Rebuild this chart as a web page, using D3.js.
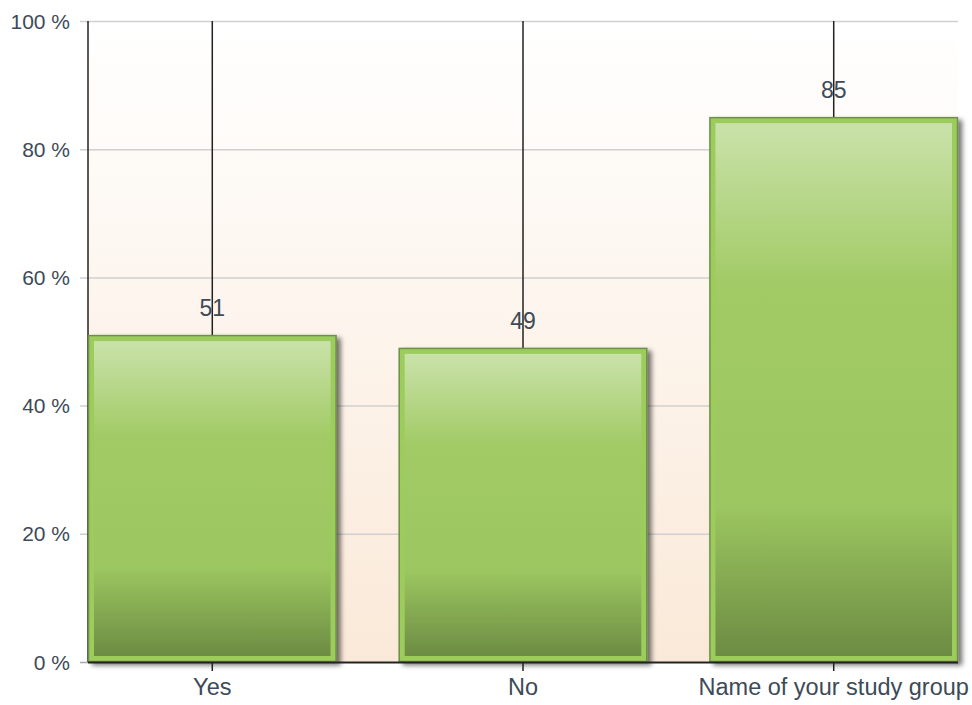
<!DOCTYPE html>
<html lang="en">
<head>
<meta charset="UTF-8">
<title>Study group chart</title>
<style>
  body { margin: 0; background: #fff; }
  svg text { font-family: "Liberation Sans", Arial, sans-serif; fill: #3d4a57; }
</style>
</head>
<body>
<svg id="chart" width="972" height="705"></svg>
<script src="https://d3js.org/d3.v7.min.js"></script>
<script>
// data
const categories = ["Yes", "No", "Name of your study group"];
const values = [51, 49, 85];
const yTicks = [0, 20, 40, 60, 80, 100];

const svg = d3.select("#chart");
const plotL = 88, plotR = 958, plotT = 21, plotB = 662;

const x = d3.scaleBand().domain(categories).range([plotL, plotR])
    .paddingInner(0.2).paddingOuter(0);
const y = d3.scaleLinear().domain([0, 100]).range([plotB, plotT]);

const defs = svg.append("defs");
const bg = defs.append("linearGradient").attr("id", "bg")
    .attr("x1", 0).attr("y1", 0).attr("x2", 0).attr("y2", 1);
bg.append("stop").attr("offset", 0).attr("stop-color", "#ffffff");
bg.append("stop").attr("offset", 1).attr("stop-color", "#fae9d8");

const barGrad = defs.append("linearGradient").attr("id", "barGrad")
    .attr("x1", 0).attr("y1", 0).attr("x2", 0).attr("y2", 1);
[[0, "#cae2aa"], [0.3, "#a2cb66"], [0.72, "#9cc660"], [1, "#6c8c43"]].forEach(s =>
    barGrad.append("stop").attr("offset", s[0]).attr("stop-color", s[1]));

const shadow = defs.append("filter").attr("id", "shadow")
    .attr("x", "-5%").attr("y", "-5%").attr("width", "115%").attr("height", "115%");
shadow.append("feGaussianBlur").attr("in", "SourceAlpha").attr("stdDeviation", 2.5);
shadow.append("feOffset").attr("dx", 4).attr("dy", 3).attr("result", "off");
shadow.append("feComponentTransfer").attr("in", "off").attr("result", "sh")
    .append("feFuncA").attr("type", "linear").attr("slope", 0.55);
const merge = shadow.append("feMerge");
merge.append("feMergeNode").attr("in", "sh");
merge.append("feMergeNode").attr("in", "SourceGraphic");

// plot background
svg.append("rect").attr("x", plotL).attr("y", plotT)
    .attr("width", plotR - plotL).attr("height", plotB - plotT)
    .attr("fill", "url(#bg)");

// horizontal grid + y labels
svg.append("g").selectAll("line").data(yTicks.filter(d => d > 0)).join("line")
    .attr("x1", plotL - 8).attr("x2", plotR)
    .attr("y1", d => y(d) + 0.5).attr("y2", d => y(d) + 0.5)
    .attr("stroke", "#d0d0d0").attr("stroke-width", 1.5);
svg.append("line").attr("x1", plotL - 8).attr("x2", plotL)
    .attr("y1", plotB + 0.5).attr("y2", plotB + 0.5)
    .attr("stroke", "#aaa").attr("stroke-width", 1.5);
svg.append("g").selectAll("text").data(yTicks).join("text")
    .attr("x", 70).attr("y", d => y(d) + 7.5)
    .attr("text-anchor", "end").attr("font-size", 21)
    .text(d => d + " %");

// vertical category lines
svg.append("g").selectAll("line").data(categories).join("line")
    .attr("x1", d => x(d) + x.bandwidth() / 2).attr("x2", d => x(d) + x.bandwidth() / 2)
    .attr("y1", plotT).attr("y2", plotB)
    .attr("stroke", "#222").attr("stroke-width", 1.5);
svg.append("line").attr("x1", plotL).attr("x2", plotL)
    .attr("y1", plotT).attr("y2", plotB)
    .attr("stroke", "#222").attr("stroke-width", 1.5);

// bars
const bars = svg.append("g").selectAll("g").data(values).join("g");
bars.append("rect")
    .attr("x", (d, i) => x(categories[i]) + 0.5)
    .attr("y", d => y(d) + 0.5)
    .attr("width", x.bandwidth() - 1)
    .attr("height", d => plotB - y(d) - 1)
    .attr("fill", "#9ccd5c").attr("stroke", "#6f8f48").attr("stroke-width", 1.5)
    .attr("filter", "url(#shadow)");
bars.append("rect")
    .attr("x", (d, i) => x(categories[i]) + 6)
    .attr("y", d => y(d) + 6)
    .attr("width", x.bandwidth() - 12)
    .attr("height", d => plotB - y(d) - 12)
    .attr("fill", "url(#barGrad)");

// value labels
svg.append("g").selectAll("text").data(values).join("text")
    .attr("x", (d, i) => x(categories[i]) + x.bandwidth() / 2)
    .attr("y", d => y(d) - 19)
    .attr("text-anchor", "middle").attr("font-size", 23)
    .text(d => d);

// x axis
svg.append("line").attr("x1", plotL).attr("x2", plotR)
    .attr("y1", plotB + 0.5).attr("y2", plotB + 0.5)
    .attr("stroke", "#222").attr("stroke-width", 2);
svg.append("g").selectAll("line").data(categories).join("line")
    .attr("x1", d => x(d) + x.bandwidth() / 2).attr("x2", d => x(d) + x.bandwidth() / 2)
    .attr("y1", plotB).attr("y2", plotB + 9)
    .attr("stroke", "#222").attr("stroke-width", 1.5);
svg.append("g").selectAll("text").data(categories).join("text")
    .attr("x", d => x(d) + x.bandwidth() / 2).attr("y", 695)
    .attr("text-anchor", "middle").attr("font-size", 23.5)
    .text(d => d);
</script>
</body>
</html>
